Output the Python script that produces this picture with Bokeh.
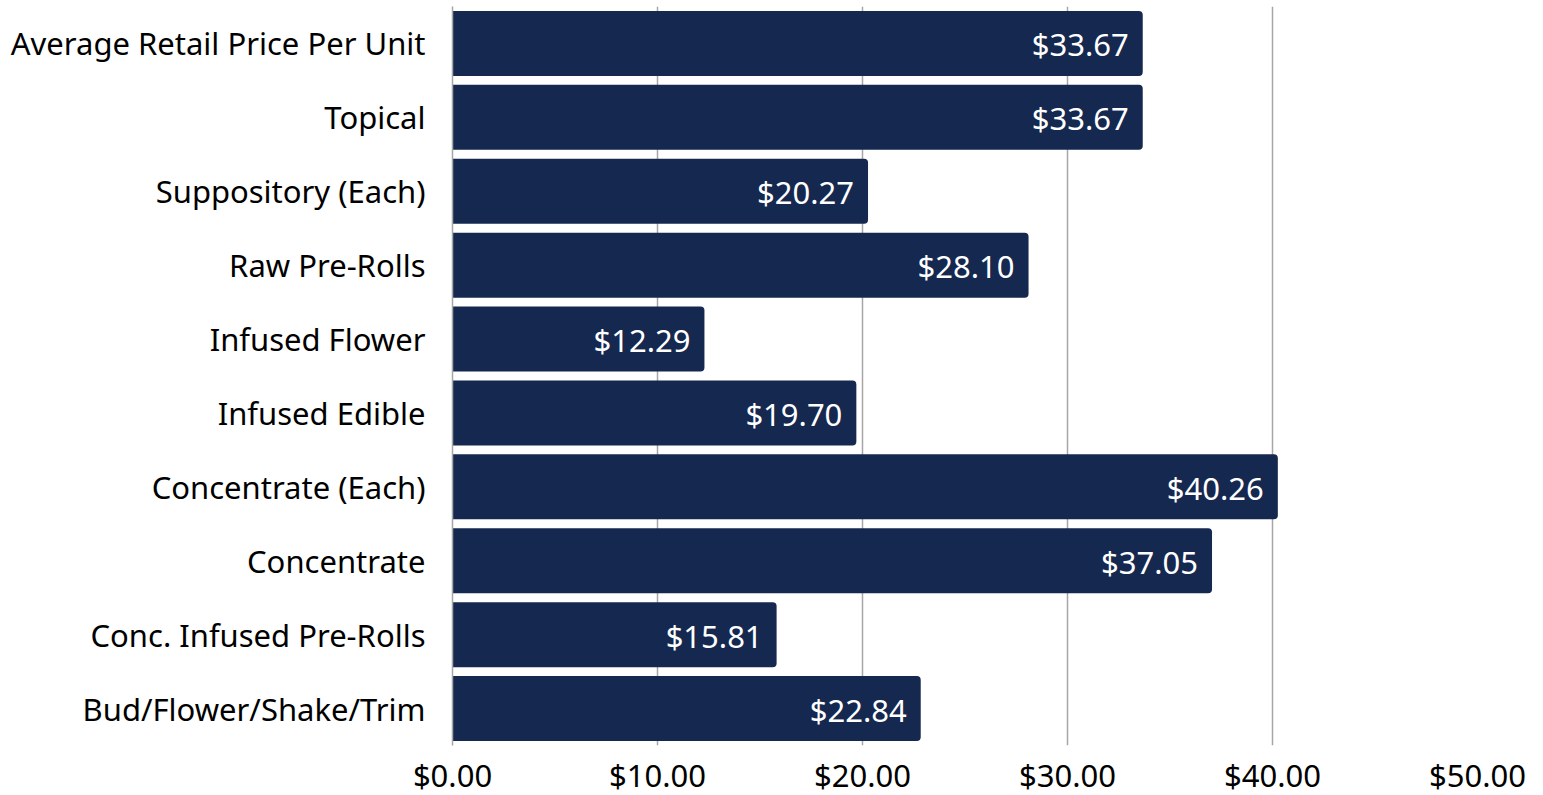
from bokeh.plotting import figure
from bokeh.models import ColumnDataSource, Range1d, FixedTicker, NumeralTickFormatter
from bokeh.core.properties import value
from bokeh.embed import file_html
from bokeh.resources import INLINE

categories = [
    "Average Retail Price Per Unit",
    "Topical",
    "Suppository (Each)",
    "Raw Pre-Rolls",
    "Infused Flower",
    "Infused Edible",
    "Concentrate (Each)",
    "Concentrate",
    "Conc. Infused Pre-Rolls",
    "Bud/Flower/Shake/Trim",
]
prices = [33.67, 33.67, 20.27, 28.10, 12.29, 19.70, 40.26, 37.05, 15.81, 22.84]
x_ticks = [0, 10, 20, 30, 40, 50]

FONT = "Noto Sans"
FS = "31px"
BAR = "#15284F"

pos = list(range(len(categories)))
src = ColumnDataSource(dict(
    y=pos,
    price=prices,
    label=["$%.2f" % v for v in prices],
))

p = figure(frame_width=1025, frame_height=739, output_backend="svg", toolbar_location=None,
           x_range=Range1d(0, 50), y_range=Range1d(9.5, -0.5),
           min_border_left=452, min_border_right=58, min_border_top=6, min_border_bottom=0)
p.outline_line_color = None
p.background_fill_color = "white"

p.hbar(y="y", right="price", left=0, height=0.88, source=src,
       fill_color=BAR, line_color=None, border_radius=(0, 4, 4, 0))
p.text(x="price", y="y", text="label", source=src, text_align="right",
       text_baseline="middle", x_offset=-14, y_offset=1, text_color="white",
       text_font=value(FONT), text_font_size=FS)

p.ygrid.grid_line_color = None
p.xgrid.ticker = FixedTicker(ticks=x_ticks)
p.xgrid.grid_line_color = "#a6a6a6"
p.xgrid.grid_line_width = 1.5
p.xgrid.level = "underlay"

xa = p.xaxis[0]
xa.ticker = FixedTicker(ticks=x_ticks)
xa.formatter = NumeralTickFormatter(format="$0.00")
xa.axis_line_color = None
xa.major_tick_line_color = None
xa.minor_tick_line_color = None
xa.major_tick_out = 0
xa.major_tick_in = 0
xa.major_label_text_font = FONT
xa.major_label_text_font_size = FS
xa.major_label_text_color = "#000000"
xa.major_label_standoff = 8

ya = p.yaxis[0]
ya.ticker = FixedTicker(ticks=pos)
ya.major_label_overrides = {i: c for i, c in zip(pos, categories)}
ya.axis_line_color = "#a6a6a6"
ya.axis_line_width = 1.5
ya.major_tick_line_color = None
ya.minor_tick_line_color = None
ya.major_tick_out = 0
ya.major_tick_in = 0
ya.major_label_text_font = FONT
ya.major_label_text_font_size = FS
ya.major_label_text_color = "#000000"
ya.major_label_standoff = 27

open("out.html", "w").write(file_html(p, INLINE))
